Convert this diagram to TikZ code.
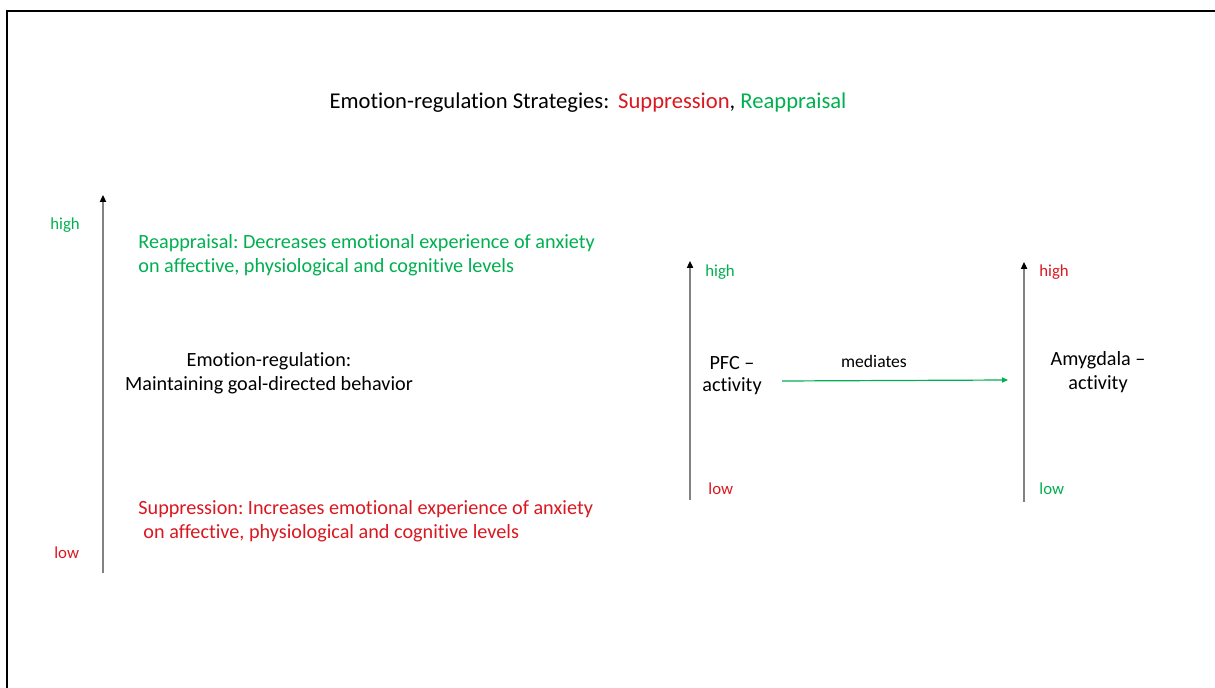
\documentclass[tikz,border=0pt]{standalone}
\usepackage{fontspec}
\setmainfont{Carlito}[Ligatures=NoCommon]
\usetikzlibrary{arrows.meta}
\definecolor{regred}{RGB}{218,24,32}
\definecolor{reggreen}{RGB}{0,176,80}
\definecolor{axisgray}{RGB}{130,130,130}
\frenchspacing
\begin{document}
\begin{tikzpicture}[x=0.5pt,y=-0.5pt,
  every node/.style={font=\fontsize{10.1}{12.3}\selectfont, inner sep=0pt},
  axis/.style={draw=axisgray, line width=0.8pt, -{Triangle[length=3.4pt,width=3pt,color=black]}},
  lvl/.style={anchor=base west, font=\fontsize{8.4}{10}\selectfont},
  txt/.style={align=center, anchor=base},
  link/.style={draw=reggreen, line width=0.6pt, -{Triangle[length=3pt,width=2.6pt]}}]
\useasboundingbox (0,0) rectangle (1215,688);
\fill[white] (0,0) rectangle (1215,688);
% outer frame
\draw[line width=1.1pt] (7,700) -- (7,11) -- (1230,11);

% title
\node[anchor=base, font=\fontsize{11.3}{13.5}\selectfont] (title) at (588,109) {Emotion-regulation Strategies:\ \,\textcolor{regred}{Suppression}, \textcolor{reggreen}{Reappraisal}};

% left scale
\coordinate (lb) at (103,573);
\coordinate (lt) at (103,195);
\draw[axis] (lb) -- (lt);
\node[lvl, text=reggreen] (lhigh) at (50,230) {high};
\node[lvl, text=regred] (llow) at (54,559) {low};

\node[lvl, font=\fontsize{10.1}{12.3}\selectfont, text=reggreen, align=left] (reap) at (138,273) {Reappraisal: Decreases emotional experience of anxiety\\on affective, physiological and cognitive levels};
\node[txt] (er) at (269,391) {Emotion-regulation:\\Maintaining goal-directed behavior};
\node[lvl, font=\fontsize{10.1}{12.3}\selectfont, text=regred, align=left] (supp) at (138,539) {Suppression: Increases emotional experience of anxiety\\\hspace{0.25em}on affective, physiological and cognitive levels};

% PFC scale
\coordinate (pb) at (690,500);
\coordinate (pt) at (690,261);
\draw[axis] (pb) -- (pt);
\node[lvl, text=reggreen] (phigh) at (705,277) {high};
\node[lvl, text=regred] (plow) at (708,495) {low};
\node[txt, font=\fontsize{10.1}{11}\selectfont] (pfc) at (732,392) {PFC –\\activity};

% Amygdala scale
\coordinate (ab) at (1024,502);
\coordinate (at) at (1024,262);
\draw[axis] (ab) -- (at);
\node[lvl, text=regred] (ahigh) at (1039,277) {high};
\node[lvl, text=reggreen] (alow) at (1039,495) {low};
\node[txt] (amy) at (1098,390) {Amygdala –\\activity};

% mediation link
\coordinate (ms) at (782,381);
\coordinate (me) at (1008,380);
\draw[link] (ms) -- (me);
\node[anchor=base, font=\fontsize{8.8}{10}\selectfont] (med) at (874,368) {mediates};
\end{tikzpicture}
\end{document}
